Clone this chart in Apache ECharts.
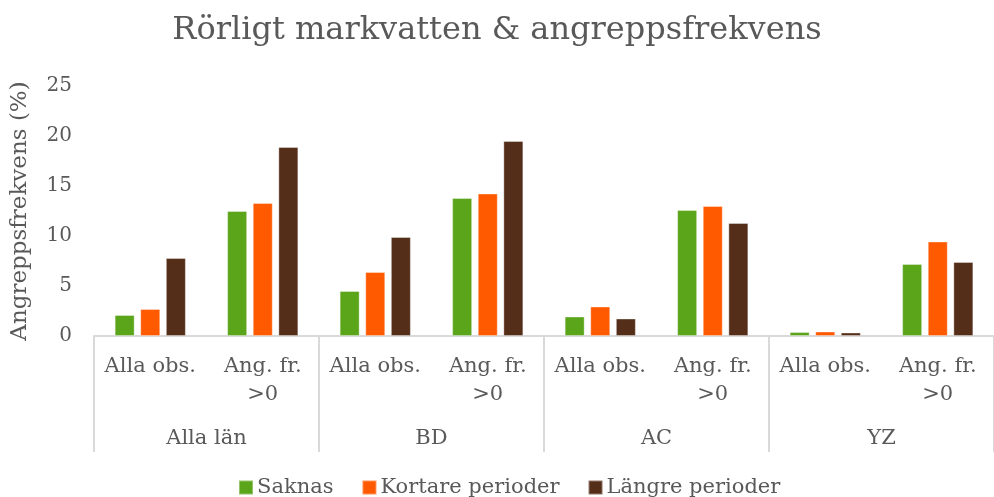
<!DOCTYPE html>
<html>
<head>
<meta charset="utf-8">
<script src="https://cdn.jsdelivr.net/npm/echarts@6/dist/echarts.min.js"></script>
<style>
  html, body { margin: 0; padding: 0; background: #fff; }
  #chart { width: 994px; height: 497px; }
</style>
</head>
<body>
<div id="chart"></div>
<script>
var chart = echarts.init(document.getElementById('chart'));

// data
var subCategories = ['Alla obs.', 'Ang. fr.\n>0', 'Alla obs.', 'Ang. fr.\n>0', 'Alla obs.', 'Ang. fr.\n>0', 'Alla obs.', 'Ang. fr.\n>0'];
var groups = ['Alla län', 'BD', 'AC', 'YZ'];
var saknas = [2.1, 12.5, 4.5, 13.8, 1.95, 12.6, 0.4, 7.2];
var kortare = [2.7, 13.3, 6.4, 14.25, 2.95, 13.0, 0.45, 9.45];
var langre = [7.8, 18.9, 9.9, 19.5, 1.75, 11.3, 0.35, 7.4];
var yTicks = [0, 5, 10, 15, 20, 25];

var font = "Georgia, 'DejaVu Serif', serif";
var grey = '#595959';

function barSeries(name, data, color) {
    return {
        name: name,
        type: 'bar',
        data: data,
        barWidth: 20,
        barGap: '28%',
        itemStyle: { color: color, borderColor: 'rgba(255,255,255,0.35)', borderWidth: 1 }
    };
}

var option = {
    animation: false,
    backgroundColor: '#fff',
    textStyle: { fontFamily: font, color: grey },
    title: {
        text: 'Rörligt markvatten & angreppsfrekvens',
        left: 'center',
        top: 10,
        textStyle: { fontFamily: font, fontSize: 32, fontWeight: 'normal', color: grey }
    },
    legend: {
        top: 472,
        left: 233,
        itemWidth: 14,
        itemHeight: 14,
        itemGap: 28,
        icon: 'rect',
        textStyle: { fontFamily: font, fontSize: 21, color: grey, padding: [0, 0, 0, -1] },
        data: ['Saknas', 'Kortare perioder', 'Längre perioder']
    },
    grid: { left: 94, top: 86, bottom: 161, width: 909 },
    xAxis: [
        {
            type: 'category',
            data: subCategories,
            axisLine: { show: true, lineStyle: { color: '#d9d9d9', width: 2 } },
            axisTick: { show: false },
            axisLabel: {
                interval: 0,
                margin: 17,
                fontFamily: font,
                fontSize: 21,
                lineHeight: 28,
                color: grey
            }
        },
        {
            type: 'category',
            data: groups,
            position: 'bottom',
            axisLine: { show: false },
            axisTick: {
                show: true,
                interval: 0,
                length: 116,
                lineStyle: { color: '#d9d9d9', width: 2 }
            },
            axisLabel: {
                interval: 0,
                margin: 92,
                fontFamily: font,
                fontSize: 21,
                color: grey
            }
        }
    ],
    yAxis: {
        type: 'value',
        min: yTicks[0],
        max: yTicks[yTicks.length - 1],
        interval: 5,
        name: 'Angreppsfrekvens (%)',
        nameLocation: 'middle',
        nameGap: 62,
        nameTextStyle: { fontFamily: font, fontSize: 23, color: grey },
        axisLine: { show: false },
        axisTick: { show: false },
        splitLine: { show: false },
        axisLabel: { fontFamily: font, fontSize: 20, color: grey, margin: 22 }
    },
    series: [
        barSeries('Saknas', saknas, '#5aa51a'),
        barSeries('Kortare perioder', kortare, '#ff5a00'),
        barSeries('Längre perioder', langre, '#552e1a')
    ]
};

chart.setOption(option);
</script>
</body>
</html>
